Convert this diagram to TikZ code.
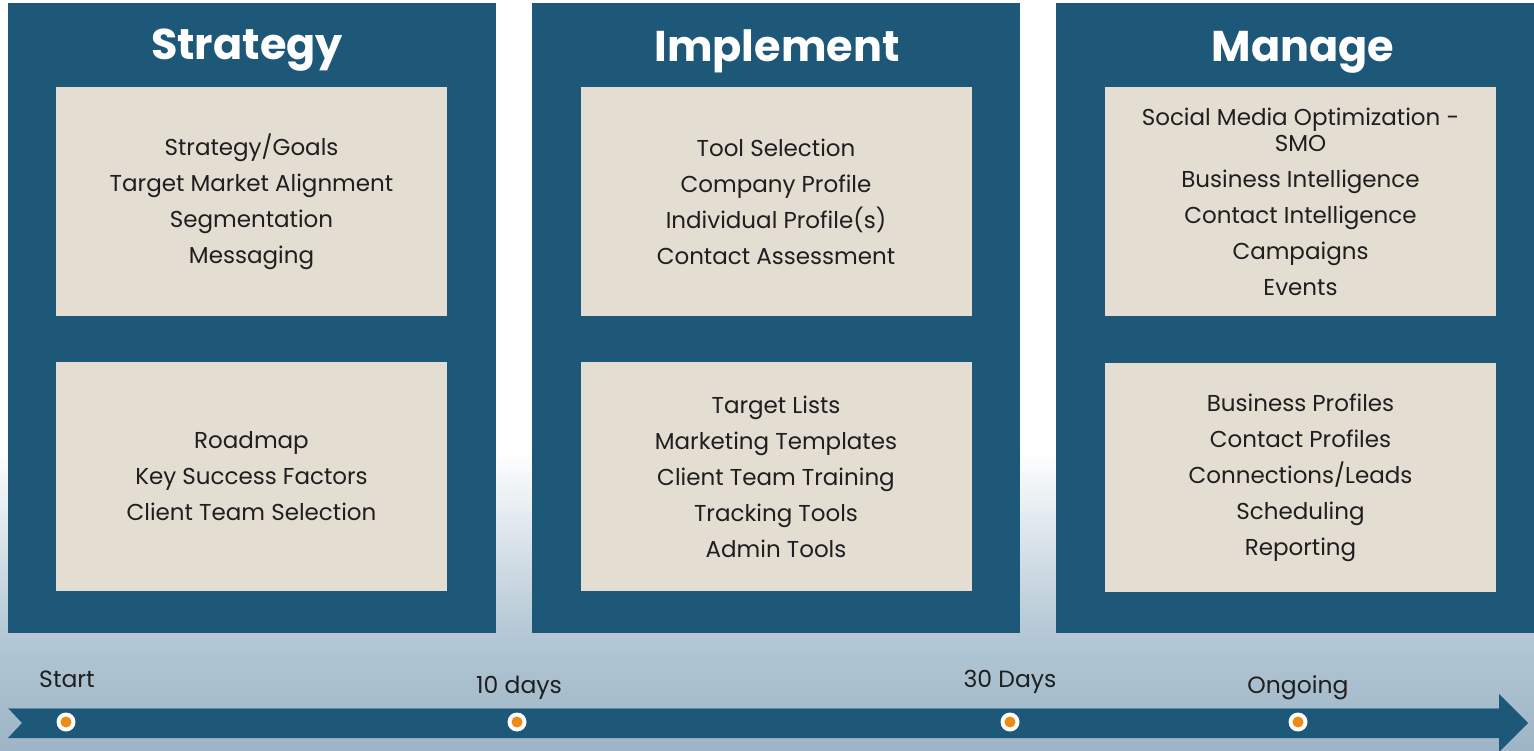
\documentclass[tikz,border=0pt]{standalone}
\usepackage{fontspec}
\setmainfont{Poppins}
\definecolor{panelblue}{HTML}{1E5879}
\definecolor{boxbeige}{HTML}{E3DDD2}
\definecolor{dotorange}{HTML}{F08A12}
\definecolor{bgmid}{HTML}{B4C8D5}
\definecolor{bgbot}{HTML}{9DB5C6}
\definecolor{bandedge}{HTML}{5F86A0}
% the path is fitted into the 25bp..75bp band of the shading
\pgfdeclareverticalshading{backdrop}{100bp}{color(0bp)=(bgbot); color(25bp)=(bgbot); color(33bp)=(bgmid); color(45bp)=(white); color(100bp)=(white)}
\begin{document}
\begin{tikzpicture}[x=1pt,y=-1pt,
  panel/.style={fill=panelblue,draw=none},
  itembox/.style={fill=boxbeige,draw=none,minimum width=391pt,minimum height=229pt,inner sep=0pt,
    align=center,font=\fontsize{23}{36}\selectfont,text=black!88},
  heading/.style={text=white,font=\fontsize{43}{46}\selectfont\bfseries,anchor=base},
  when/.style={font=\fontsize{23.5}{28}\selectfont,text=black!88},
  dotring/.style={circle,fill=white,minimum size=19pt,inner sep=0pt},
  dotcore/.style={circle,fill=dotorange,minimum size=11pt,inner sep=0pt}]
\useasboundingbox (0,0) rectangle (1534,751);
% backdrop
\shade[shading=backdrop] (0,0) rectangle (1534,751);

% phase columns
\fill[panel] (8,3) rectangle (496,633);
\fill[panel] (532,3) rectangle (1020,633);
\fill[panel] (1056,3) rectangle (1534,633);

\node[heading] (h1) at (247,60) {Strategy};
\node[heading] (h2) at (777,62) {Implement};
\node[heading] (h3) at (1303,62) {Manage};

% strategy
\node[itembox] (s1) at (251.5,201.5) {Strategy/Goals\\Target Market Alignment\\Segmentation\\Messaging};
\node[itembox] (s2) at (251.5,476.5) {Roadmap\\Key Success Factors\\Client Team Selection};
% implement
\node[itembox] (i1) at (776,201.5) {Tool Selection\\Company Profile\\Individual Profile(s)\\Contact Assessment};
\node[itembox] (i2) at (776,476.5) {Target Lists\\Marketing Templates\\Client Team Training\\Tracking Tools\\Admin Tools};
% manage
\node[itembox] (m1) at (1300.5,201.5) {Social Media Optimization -\\[-10pt]SMO\\Business Intelligence\\Contact Intelligence\\Campaigns\\Events};
\node[itembox] (m2) at (1300.5,477.5) {Business Profiles\\Contact Profiles\\Connections/Leads\\Scheduling\\Reporting};

% timeline arrow
\fill[panelblue] (8,708) -- (1499,708) -- (1499,694) -- (1528,723) -- (1499,752)
  -- (1499,738) -- (8,738) -- (22,723) -- cycle;
\draw[bandedge,line width=0.8pt] (8,708.4) -- (1499,708.4);

% milestones
\foreach \n/\x in {1/66,2/517,3/1010,4/1298}{
  \node[dotring] (r\n) at (\x,722) {};
  \node[dotcore] (c\n) at (r\n) {};
}
\node[when,anchor=base] (t1) at (67,687) {Start};
\node[when,anchor=base] (t2) at (519,693) {10 days};
\node[when,anchor=base] (t3) at (1010,687) {30 Days};
\node[when,anchor=base] (t4) at (1298,693) {Ongoing};
\end{tikzpicture}
\end{document}
